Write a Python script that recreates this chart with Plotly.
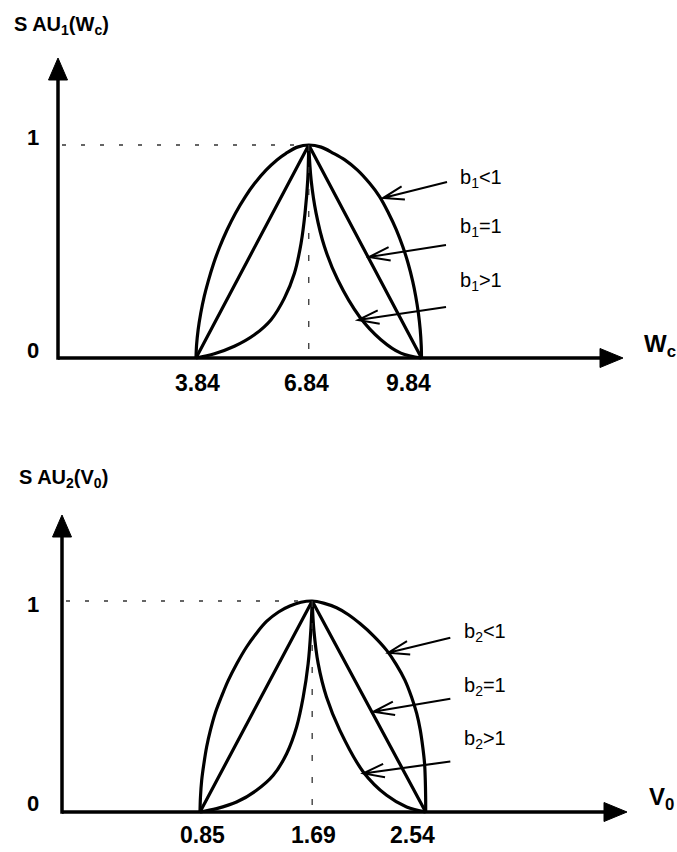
import math
import plotly.graph_objects as go

W, H = 677, 852

# ---------------- data: top panel  SAU1(Wc) ----------------
TOP_TICKS = [3.84, 6.84, 9.84]
TOP_TICK_TEXT = ["3.84", "6.84", "9.84"]
TOP_LIN_X = [3.84, 6.84, 9.84]
TOP_LIN_Y = [0, 1, 0]
# b1 < 1 (outer curve)
TOP_OUT_X = [3.84, 3.855, 3.897, 3.966, 4.059, 4.164, 4.311, 4.467, 4.668, 4.89, 5.154, 5.403, 5.709, 5.994, 6.237,
             6.537, 6.84, 7.17, 7.50, 7.80, 8.13, 8.46, 8.724, 8.964, 9.171, 9.348, 9.483, 9.606, 9.687, 9.7575,
             9.8055, 9.8325, 9.84]
TOP_OUT_Y = [0, 0.06, 0.133, 0.21, 0.289, 0.36, 0.445, 0.52, 0.602, 0.68, 0.758, 0.82, 0.883, 0.93, 0.961,
             0.99, 1, 0.99, 0.961, 0.93, 0.883, 0.82, 0.758, 0.68, 0.602, 0.52, 0.445, 0.36, 0.289, 0.21,
             0.133, 0.06, 0]
# b1 > 1 (inner curve), left and right branches
TOP_INL_X = [3.84, 4.329, 4.86, 5.394, 5.838, 6.192, 6.459, 6.636, 6.741, 6.813, 6.84]
TOP_INL_Y = [0, 0.020, 0.055, 0.109, 0.180, 0.281, 0.398, 0.539, 0.680, 0.836, 1]
TOP_INR_X = [6.84, 6.903, 7.035, 7.257, 7.611, 8.187, 8.76, 9.291, 9.84]
TOP_INR_Y = [1, 0.836, 0.680, 0.523, 0.367, 0.195, 0.086, 0.023, 0]
TOP_LABELS = ["b<sub>1</sub>&lt;1", "b<sub>1</sub>=1", "b<sub>1</sub>&gt;1"]

# ---------------- data: bottom panel  SAU2(V0) ----------------
BOT_TICKS = [0.85, 1.69, 2.54]
BOT_TICK_TEXT = ["0.85", "1.69", "2.54"]
BOT_LIN_X = [0.85, 1.69, 2.54]
BOT_LIN_Y = [0, 1, 0]
BOT_OUT_X = [0.85, 0.8534, 0.8626, 0.8794, 0.8996, 0.929, 0.9626, 1.0096, 1.0617, 1.1272, 1.1986, 1.27, 1.3481,
             1.438, 1.5228, 1.606, 1.69, 1.775, 1.873, 1.962, 2.048, 2.149, 2.248, 2.319, 2.385, 2.434, 2.473,
             2.499, 2.518, 2.5315, 2.537, 2.5396, 2.54]
BOT_OUT_Y = [0, 0.07, 0.150, 0.23, 0.308, 0.39, 0.466, 0.545, 0.624, 0.705, 0.782, 0.845, 0.903, 0.948, 0.976,
             0.994, 1, 0.99, 0.968, 0.935, 0.893, 0.835, 0.766, 0.70, 0.624, 0.545, 0.466, 0.39, 0.308, 0.23,
             0.150, 0.07, 0]
BOT_INL_X = [0.85, 0.9743, 1.1238, 1.2734, 1.3985, 1.4985, 1.5732, 1.6228, 1.6598, 1.6799, 1.69]
BOT_INL_Y = [0, 0.016, 0.047, 0.103, 0.174, 0.276, 0.403, 0.545, 0.703, 0.861, 1]
BOT_INR_X = [1.69, 1.7028, 1.735, 1.7971, 1.8974, 2.0725, 2.2476, 2.3972, 2.54]
BOT_INR_Y = [1, 0.861, 0.703, 0.545, 0.387, 0.190, 0.079, 0.024, 0]
BOT_LABELS = ["b<sub>2</sub>&lt;1", "b<sub>2</sub>=1", "b<sub>2</sub>&gt;1"]

# ---------------- layout constants (pixels) ----------------
FONT = "Liberation Sans Narrow, Arial Narrow, Liberation Sans, Arial, sans-serif"
TOP_MAP = dict(xa=3.84, pxa=196.0, xb=9.84, pxb=421.5, py0=358.0, py1=145.0)
BOT_MAP = dict(xa=0.85, pxa=200.0, xb=2.54, pxb=425.7, py0=812.0, py1=601.0)


def ranges(m):
    s = (m["pxb"] - m["pxa"]) / (m["xb"] - m["xa"])
    xr = [m["xa"] - m["pxa"] / s, m["xa"] + (W - m["pxa"]) / s]
    sy = m["py0"] - m["py1"]
    yr = [(m["py0"] - H) / sy, m["py0"] / sy]
    return xr, yr


def px_to_x(m, px):
    s = (m["pxb"] - m["pxa"]) / (m["xb"] - m["xa"])
    return m["xa"] + (px - m["pxa"]) / s


def py_to_y(m, py):
    return (m["py0"] - py) / (m["py0"] - m["py1"])


fig = go.Figure()
LINE = dict(color="black", width=3.2)


def add_curves(xs_ys, xa, ya):
    for xs, ys, shp in xs_ys:
        fig.add_trace(go.Scatter(x=xs, y=ys, mode="lines", line=dict(LINE, shape=shp, smoothing=1.0),
                                 xaxis=xa, yaxis=ya, showlegend=False, hoverinfo="skip"))


add_curves([(TOP_LIN_X, TOP_LIN_Y, "linear"), (TOP_OUT_X, TOP_OUT_Y, "spline"),
            (TOP_INL_X, TOP_INL_Y, "spline"), (TOP_INR_X, TOP_INR_Y, "spline")], "x", "y")
add_curves([(BOT_LIN_X, BOT_LIN_Y, "linear"), (BOT_OUT_X, BOT_OUT_Y, "spline"),
            (BOT_INL_X, BOT_INL_Y, "spline"), (BOT_INR_X, BOT_INR_Y, "spline")], "x2", "y2")

shapes = []
annotations = []


def axes_deco(m, xref, yref, yax_px, xtip_px, ytip_py, peak_x):
    ax_x = px_to_x(m, yax_px)
    tip_x = px_to_x(m, xtip_px)
    tip_y = py_to_y(m, ytip_py)
    base_y = py_to_y(m, ytip_py + 20)
    base_x = px_to_x(m, xtip_px - 20)
    shapes.append(dict(type="line", xref=xref, yref=yref, x0=ax_x, x1=ax_x, y0=py_to_y(m, m["py0"] + 1.7),
                       y1=base_y, line=dict(color="black", width=3.5)))
    shapes.append(dict(type="line", xref=xref, yref=yref, x0=ax_x, x1=base_x, y0=0, y1=0,
                       line=dict(color="black", width=3.5)))
    shapes.append(dict(type="path", xref=xref, yref=yref, xsizemode="pixel", ysizemode="pixel",
                       xanchor=tip_x, yanchor=0, path="M0,0 L-23,9.5 L-23,-9.5 Z",
                       fillcolor="black", line=dict(color="black", width=1)))
    shapes.append(dict(type="path", xref=xref, yref=yref, xsizemode="pixel", ysizemode="pixel",
                       xanchor=ax_x, yanchor=tip_y, path="M0,0 L-9.5,-22 L9.5,-22 Z",
                       fillcolor="black", line=dict(color="black", width=1)))
    shapes.append(dict(type="line", xref=xref, yref=yref, x0=px_to_x(m, yax_px + 4), x1=peak_x, y0=1, y1=1,
                       line=dict(color="#333", width=1.3, dash="4px,15px")))
    shapes.append(dict(type="line", xref=xref, yref=yref, x0=peak_x, x1=peak_x, y0=1, y1=0,
                       line=dict(color="#333", width=1.3, dash="6px,16px")))


axes_deco(TOP_MAP, "x", "y", 58, 623, 58, TOP_TICKS[1])
axes_deco(BOT_MAP, "x2", "y2", 62, 627, 515, BOT_TICKS[1])


def pointer(xref, yref, x, y, dx, dy):
    # dx, dy: screen-pixel offset from tip to tail (dy positive = down)
    L = math.hypot(dx, dy)
    ux, uy = dx / L, dy / L
    a = math.radians(18)
    bl = 22
    b1 = (bl * (ux * math.cos(a) - uy * math.sin(a)), bl * (ux * math.sin(a) + uy * math.cos(a)))
    b2 = (bl * (ux * math.cos(-a) - uy * math.sin(-a)), bl * (ux * math.sin(-a) + uy * math.cos(-a)))
    path = (f"M{dx:.1f},{-dy:.1f} L0,0 M{b1[0]:.1f},{-b1[1]:.1f} L0,0 L{b2[0]:.1f},{-b2[1]:.1f}")
    shapes.append(dict(type="path", xref=xref, yref=yref, xsizemode="pixel", ysizemode="pixel",
                       xanchor=x, yanchor=y, path=path, line=dict(color="black", width=2)))


TOP_PTR = [((8.816, 0.751), (64, -16)), ((8.443, 0.474), (77, -12)), ((8.151, 0.178), (88, -13))]
BOT_PTR = [((2.260, 0.755), (62, -15)), ((2.148, 0.475), (77, -13)), ((2.073, 0.183), (87, -12))]
for (p, d) in TOP_PTR:
    pointer("x", "y", p[0], p[1], d[0], d[1])
for (p, d) in BOT_PTR:
    pointer("x2", "y2", p[0], p[1], d[0], d[1])


def text(px, py, s, size, xanchor="center", bold=True):
    annotations.append(dict(x=px / W, y=1 - py / H, xref="paper", yref="paper", text=s, showarrow=False,
                            xanchor=xanchor, yanchor="middle",
                            font=dict(family=FONT, size=size, color="black", weight="bold" if bold else "normal")))


# titles
text(12, 26, "S AU<sub>1</sub>(W<sub>c</sub>)", 20, "left")
text(17, 479, "S AU<sub>2</sub>(V<sub>0</sub>)", 20, "left")
# y labels
for (py, s) in [(137, "1"), (350, "0"), (604, "1"), (803, "0")]:
    text(33, py, s, 22)
# x-axis names
text(642, 345, "W<sub>c</sub>", 24, "left")
text(647, 798, "V<sub>0</sub>", 24, "left")

# tick labels
TOP_SHIFT = [1, -2, -13]
BOT_SHIFT = [2, 1, -13]
for v, s, sh in zip(TOP_TICKS, TOP_TICK_TEXT, TOP_SHIFT):
    annotations.append(dict(x=v, y=0, xref="x", yref="y", text=s, showarrow=False, xshift=sh, yshift=-25,
                            xanchor="center", yanchor="middle",
                            font=dict(family=FONT, size=23, color="black", weight="bold")))
for v, s, sh in zip(BOT_TICKS, BOT_TICK_TEXT, BOT_SHIFT):
    annotations.append(dict(x=v, y=0, xref="x2", yref="y2", text=s, showarrow=False, xshift=sh, yshift=-23,
                            xanchor="center", yanchor="middle",
                            font=dict(family=FONT, size=23, color="black", weight="bold")))

# curve labels
for py, s in zip([178, 228, 281], TOP_LABELS):
    text(458, py, s, 20, "left", bold=False)
for py, s in zip([632, 686, 739], BOT_LABELS):
    text(462, py, s, 20, "left", bold=False)

txr, tyr = ranges(TOP_MAP)
bxr, byr = ranges(BOT_MAP)
ax_common = dict(visible=False, showgrid=False, zeroline=False, domain=[0, 1], fixedrange=True)
fig.update_layout(
    width=W, height=H, margin=dict(l=0, r=0, t=0, b=0),
    paper_bgcolor="white", plot_bgcolor="rgba(0,0,0,0)",
    xaxis=dict(ax_common, range=txr, anchor="y"),
    yaxis=dict(ax_common, range=tyr, anchor="x"),
    xaxis2=dict(ax_common, range=bxr, anchor="y2", overlaying="x"),
    yaxis2=dict(ax_common, range=byr, anchor="x2", overlaying="y"),
    shapes=shapes, annotations=annotations, showlegend=False,
)

fig.write_html("out.html", config={"displayModeBar": False, "staticPlot": True},
               post_script="document.body.style.margin='0';document.body.style.overflow='hidden';")
